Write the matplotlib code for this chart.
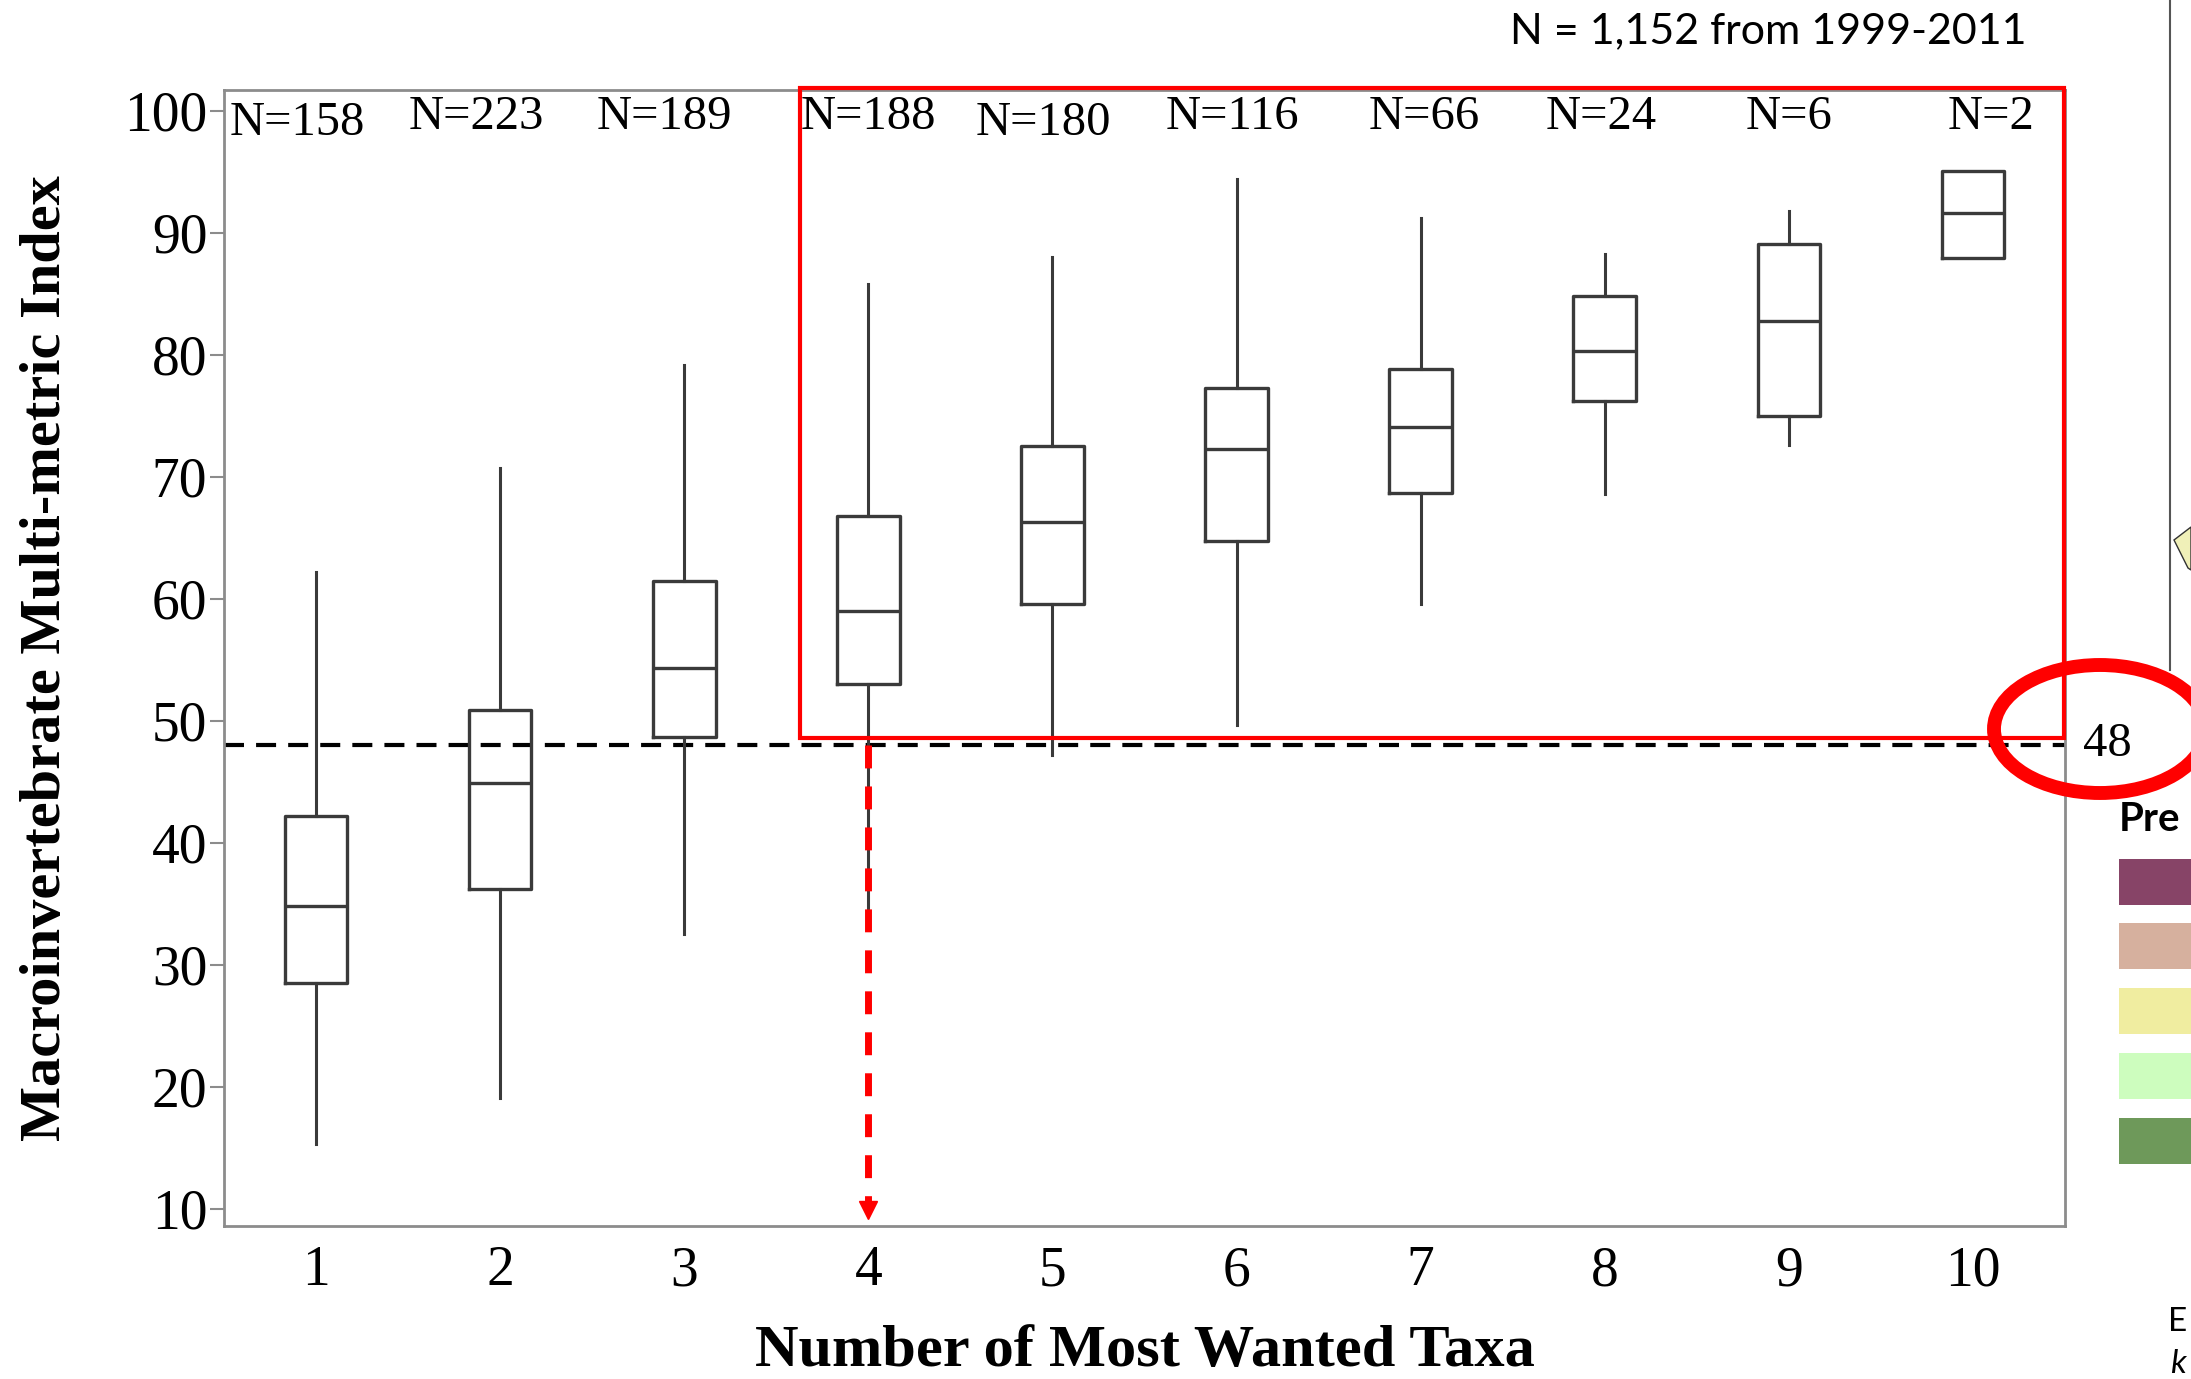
import matplotlib.pyplot as plt
from matplotlib.patches import Rectangle, Ellipse, Polygon

# data
taxa = [1, 2, 3, 4, 5, 6, 7, 8, 9, 10]
n_sites = [158, 223, 189, 188, 180, 116, 66, 24, 6, 2]
whisker_lo = [15.3, 19.1, 32.5, 34.7, 47.2, 49.7, 59.6, 68.6, 72.6, 87.9]
q1 = [28.5, 36.2, 48.7, 53.0, 59.6, 64.7, 68.7, 76.2, 75.0, 87.9]
med = [34.8, 44.9, 54.3, 59.0, 66.3, 72.3, 74.1, 80.3, 82.8, 91.6]
q3 = [42.2, 50.9, 61.5, 66.8, 72.5, 77.3, 78.8, 84.8, 89.1, 95.1]
whisker_hi = [62.2, 70.7, 79.2, 85.8, 88.0, 94.4, 91.2, 88.3, 91.8, 95.1]
y_ticks = [10, 20, 30, 40, 50, 60, 70, 80, 90, 100]
threshold = 48
legend_colors = ['#874467', '#D6B09E', '#F0EDA0', '#CDFDBE', '#6E995A']

W, H = 2191, 1379
serif = 'Liberation Serif'


def fx(px):
    return px / W


def fy(py):
    return 1 - py / H


fig = plt.figure(figsize=(W / 100, H / 100), dpi=100)
ax = fig.add_axes([fx(224), fy(1226), fx(2065) - fx(224), fy(90) - fy(1226)])

stats = []
for i in range(len(taxa)):
    stats.append({'med': med[i], 'q1': q1[i], 'q3': q3[i],
                  'whislo': whisker_lo[i], 'whishi': whisker_hi[i], 'fliers': []})

ax.bxp(stats, positions=taxa, widths=0.34, showcaps=False, showfliers=False,
       boxprops=dict(color='#3a3a3a', linewidth=2.4),
       medianprops=dict(color='#3a3a3a', linewidth=2.4),
       whiskerprops=dict(color='#3a3a3a', linewidth=2.2),
       zorder=3)

# sample counts along the top (labels sit a little off-centre in the original)
label_dx = [-0.1, -0.13, -0.11, 0, -0.05, -0.02, 0.02, -0.02, 0, 0.1]
label_y = [99.0, 99.5, 99.5, 99.5, 99.0, 99.5, 99.5, 99.5, 99.5, 99.5]
for x, n, dx, yy in zip(taxa, n_sites, label_dx, label_y):
    ax.text(x + dx, yy, f'N={n}', ha='center', va='center', fontsize=35, family=serif)

# threshold line
ax.axhline(threshold, color='black', lw=3, dashes=(4.8, 2.9), zorder=2)

# red highlight box
ax.add_patch(Rectangle((3.63, 48.56), 10.495 - 3.63, 101.9 - 48.56, fill=False,
                       edgecolor='#ff0000', lw=3, clip_on=False, zorder=4))

# red dashed arrow down from the threshold at 4 taxa
ax.plot([4, 4], [threshold, 10.6], color='#ff0000', lw=5, dashes=(3.3, 2.6), zorder=5)
ax.plot([4], [9.95], marker='v', color='#ff0000', markersize=13, zorder=5, clip_on=False)

ax.set_xlim(0.5, 10.5)
ax.set_ylim(8.6, 101.7)
ax.set_xticks(taxa)
ax.set_yticks(y_ticks)
ax.set_xticklabels([str(t) for t in taxa], fontsize=40, family=serif)
ax.set_yticklabels([str(t) for t in y_ticks], fontsize=40, family=serif)
ax.tick_params(axis='x', length=0, pad=14)
ax.tick_params(axis='y', length=10, width=1.5, color='#8c8c8c', pad=2)
for s in ax.spines.values():
    s.set_color('#8c8c8c')
    s.set_linewidth(2)

fig.text(fx(46), fy(658), 'Macroinvertebrate Multi-metric Index', rotation=90,
         ha='center', va='center', fontsize=42, fontweight='bold', family=serif)
fig.text(fx(1145), fy(1352), 'Number of Most Wanted Taxa',
         ha='center', va='center', fontsize=43.5, fontweight='bold', family=serif)

fig.text(fx(2026), fy(31), 'N = 1,152 from 1999-2011', ha='right', va='center',
         fontsize=31, family='Lato')

# threshold label and circle
fig.text(fx(2083), fy(744), str(threshold), ha='left', va='center', fontsize=35, family=serif)
fig.patches.append(Ellipse((fx(2100), fy(729)), 212 / W, 128 / H, fill=False,
                           edgecolor='#ff0000', lw=10, transform=fig.transFigure))

# cut-off map panel on the right
fig.add_artist(plt.Line2D([fx(2170), fx(2170)], [fy(0), fy(670)], color='#555555',
                          lw=1.5, transform=fig.transFigure))
fig.patches.append(Polygon([(fx(2174), fy(540)), (fx(2191), fy(527)), (fx(2191), fy(570)),
                            (fx(2188), fy(568))], closed=True, facecolor='#f0f0b8',
                           edgecolor='#333333', lw=1, transform=fig.transFigure))
fig.text(fx(2119), fy(820), 'Pre', ha='left', va='center', fontsize=29,
         fontweight='bold', family='Lato')
sw_top = [859, 923, 988, 1053, 1118]
for c, t in zip(legend_colors, sw_top):
    fig.patches.append(Rectangle((fx(2119), fy(t + 46)), fx(72), 46 / H,
                                 facecolor=c, edgecolor='none', transform=fig.transFigure))
fig.text(fx(2168), fy(1322), 'E', ha='left', va='center', fontsize=24, family='Lato')
fig.text(fx(2170), fy(1364), 'k', ha='left', va='center', fontsize=24,
         style='italic', family='Lato')

fig.savefig('out.png', dpi=100)
